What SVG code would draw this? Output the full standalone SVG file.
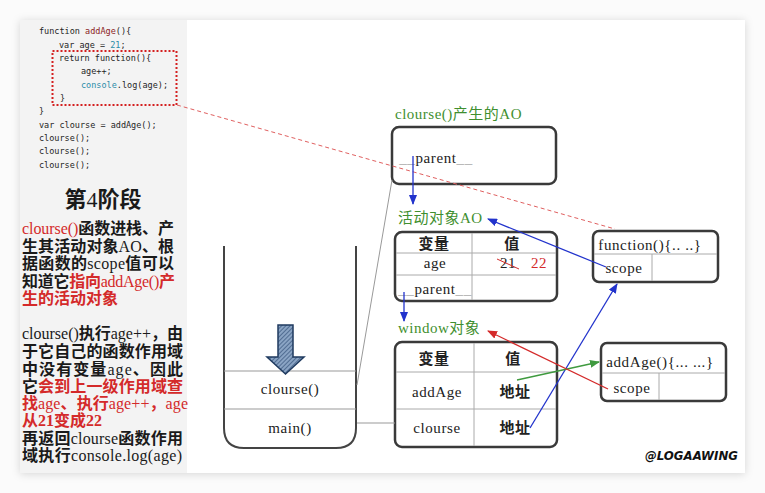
<svg xmlns="http://www.w3.org/2000/svg" width="765" height="493" viewBox="0 0 765 493">
<defs>
<style>
.code{font-family:"DejaVu Sans Mono","Liberation Mono",monospace;font-size:8.5px;fill:#1e1e1e}
.kw{fill:#8b1c1c}
.num{fill:#2b8ca8}
.cn{font-family:"Liberation Serif","Noto Sans CJK SC",serif;font-size:16px;font-weight:bold;fill:#1a1a1a}
.l{font-weight:normal}
.r{fill:#d42a2a}
.g{font-family:"Liberation Serif","Noto Sans CJK SC",serif;font-size:15px;fill:#3f8f2f;letter-spacing:0.5px}
.t{font-family:"Liberation Serif","Noto Sans CJK SC",serif;font-size:15px;fill:#222;text-anchor:middle;letter-spacing:0.6px}
.b{font-weight:bold}
.box{fill:#fff;stroke:#3a3a3a;stroke-width:2.5}
.in{stroke:#aaa;stroke-width:1;fill:none}
.gray{stroke:#999;stroke-width:1;fill:none}
.blue{stroke:#2233cc;stroke-width:1.3;fill:none}
.red{stroke:#d42a2a;stroke-width:1.3;fill:none}
.green{stroke:#3f9a3f;stroke-width:1.3;fill:none}
.us{fill:#aaa}
</style>
<filter id="sh" x="-5%" y="-5%" width="110%" height="110%">
<feDropShadow dx="0" dy="1" stdDeviation="4" flood-color="#000" flood-opacity="0.15"/>
</filter>
<marker id="ab" markerWidth="10" markerHeight="8" refX="9" refY="4" orient="auto" markerUnits="userSpaceOnUse"><path d="M0,0 L10,4 L0,8 z" fill="#2233cc"/></marker>
<marker id="ar" markerWidth="10" markerHeight="8" refX="9" refY="4" orient="auto" markerUnits="userSpaceOnUse"><path d="M0,0 L10,4 L0,8 z" fill="#d42a2a"/></marker>
<marker id="ag" markerWidth="10" markerHeight="8" refX="9" refY="4" orient="auto" markerUnits="userSpaceOnUse"><path d="M0,0 L10,4 L0,8 z" fill="#3f9a3f"/></marker>
<pattern id="hatch" width="3" height="3" patternUnits="userSpaceOnUse" patternTransform="rotate(45)">
<rect width="3" height="3" fill="#8aa4c4"/>
<line x1="0" y1="0" x2="0" y2="3" stroke="#2a4870" stroke-width="1.2"/>
</pattern>
</defs>
<rect width="765" height="493" fill="#fbfbfb"/>
<rect x="20" y="20" width="725" height="453" fill="#fff" filter="url(#sh)"/>
<rect x="20" y="20" width="167" height="453" fill="#f3f3f3"/>

<g id="code">
<text class="code" x="39" y="34">function <tspan class="kw">addAge</tspan>(){</text>
<text class="code" x="59" y="47.5">var age = <tspan class="num">21</tspan>;</text>
<text class="code" x="59" y="61">return function(){</text>
<text class="code" x="81" y="74">age++;</text>
<text class="code" x="81" y="87.5"><tspan class="num">console</tspan>.log(age);</text>
<text class="code" x="60" y="100.5">}</text>
<text class="code" x="39" y="114">}</text>
<text class="code" x="39" y="127.5">var clourse = addAge();</text>
<text class="code" x="39" y="141">clourse();</text>
<text class="code" x="39" y="154">clourse();</text>
<text class="code" x="39" y="167.5">clourse();</text>
<rect x="52.5" y="51" width="124" height="54" fill="none" stroke="#d42020" stroke-width="2" stroke-dasharray="2,2"/>
</g>

<g id="explain">
<text class="cn" x="103" y="207" text-anchor="middle" style="font-size:22px">第<tspan class="l">4</tspan>阶段</text>
<text class="cn" x="22" y="234" textLength="152" lengthAdjust="spacing"><tspan class="r l">clourse()</tspan>函数进栈、产</text>
<text class="cn" x="22" y="251.5" textLength="152" lengthAdjust="spacing">生其活动对象<tspan class="l">AO</tspan>、根</text>
<text class="cn" x="22" y="269" textLength="152" lengthAdjust="spacing">据函数的<tspan class="l">scope</tspan>值可以</text>
<text class="cn" x="22" y="286.5" textLength="153" lengthAdjust="spacing">知道它<tspan class="r">指向<tspan class="l">addAge()</tspan>产</tspan></text>
<text class="cn" x="22" y="304"><tspan class="r">生的活动对象</tspan></text>
<text class="cn" x="22" y="339" textLength="161" lengthAdjust="spacing"><tspan class="l">clourse()</tspan>执行<tspan class="l">age++</tspan>，由</text>
<text class="cn" x="22" y="357" textLength="161" lengthAdjust="spacing">于它自己的函数作用域</text>
<text class="cn" x="22" y="375" textLength="161" lengthAdjust="spacing">中没有变量<tspan class="l">age</tspan>、因此</text>
<text class="cn" x="22" y="392" textLength="161" lengthAdjust="spacing">它<tspan class="r">会到上一级作用域查</tspan></text>
<text class="cn r" x="22" y="409" textLength="166" lengthAdjust="spacing">找<tspan class="l">age</tspan>、执行<tspan class="l">age++</tspan>，<tspan class="l">age</tspan></text>
<text class="cn r" x="22" y="426">从21变成22</text>
<text class="cn" x="22" y="444" textLength="161" lengthAdjust="spacing">再返回<tspan class="l">clourse</tspan>函数作用</text>
<text class="cn" x="22" y="461" textLength="160" lengthAdjust="spacing">域执行<tspan class="l">console.log(age)</tspan></text>
</g>

<g id="stack">
<path d="M224,246 V428 Q224,448 244,448 H336 Q356,448 356,428 V246" fill="none" stroke="#444" stroke-width="2"/>
<line class="gray" x1="224" y1="371" x2="356" y2="371"/>
<line class="gray" x1="224" y1="409" x2="356" y2="409"/>
<text class="t" x="290" y="394">clourse()</text>
<text class="t" x="290" y="433">main()</text>
<path d="M278,325 H293 V357 H304 L285.5,374 L267,357 H278 Z" fill="url(#hatch)" stroke="#1f3a5f" stroke-width="1.5"/>
</g>

<g id="ao-closure">
<text class="g" x="395" y="119">clourse()产生的AO</text>
<rect class="box" x="392" y="127" width="164" height="57" rx="7"/>
<text class="t" x="436" y="163"><tspan class="us">__</tspan>parent<tspan class="us">__</tspan></text>
</g>

<g id="ao-active">
<text class="g" x="398" y="223">活动对象AO</text>
<rect class="box" x="395" y="232" width="162" height="69" rx="7"/>
<line class="in" x1="472" y1="233" x2="472" y2="300"/>
<line class="in" x1="396" y1="253" x2="556" y2="253"/>
<line class="in" x1="396" y1="275" x2="556" y2="275"/>
<text class="t b" x="434" y="249">变量</text>
<text class="t b" x="512" y="249">值</text>
<text class="t" x="435" y="268">age</text>
<text class="t" x="508" y="268">21</text>
<text class="t" x="539" y="268" style="fill:#d42a2a">22</text>
<line x1="497" y1="259" x2="519" y2="269" stroke="#d42a2a" stroke-width="1"/>
<text class="t" x="435" y="294"><tspan class="us">__</tspan>parent<tspan class="us">__</tspan></text>
</g>

<g id="window">
<text class="g" x="398" y="333">window对象</text>
<rect class="box" x="395" y="342" width="162" height="105" rx="7"/>
<line class="in" x1="474" y1="343" x2="474" y2="446"/>
<line class="in" x1="396" y1="372" x2="556" y2="372"/>
<line class="in" x1="396" y1="409" x2="556" y2="409"/>
<text class="t b" x="434" y="364">变量</text>
<text class="t b" x="513" y="364">值</text>
<text class="t" x="437" y="397">addAge</text>
<text class="t b" x="515" y="397">地址</text>
<text class="t" x="437" y="433">clourse</text>
<text class="t b" x="515" y="433">地址</text>
</g>

<g id="func-anon">
<rect class="box" x="593" y="231" width="125" height="51" rx="6"/>
<line class="in" x1="594" y1="254" x2="717" y2="254"/>
<line class="in" x1="652" y1="254" x2="652" y2="281"/>
<text class="t" x="650" y="250">function(){.. ..}</text>
<text class="t" x="624" y="273">scope</text>
</g>

<g id="func-addAge">
<rect class="box" x="601" y="343" width="125" height="58" rx="6"/>
<line class="in" x1="602" y1="373" x2="725" y2="373"/>
<line class="in" x1="659" y1="373" x2="659" y2="400"/>
<text class="t" x="660" y="367">addAge(){... ...}</text>
<text class="t" x="632" y="393">scope</text>
</g>

<g id="watermark">
<text x="645" y="460" font-family="DejaVu Sans" font-weight="bold" font-style="italic" font-size="12" fill="#111" textLength="93" lengthAdjust="spacingAndGlyphs">@LOGAAWING</text>
</g>

<g id="connectors">
<line x1="177" y1="105" x2="615" y2="229" stroke="#e06060" stroke-width="1" stroke-dasharray="4,3"/>
<line class="gray" x1="357" y1="385" x2="392" y2="180"/>
<line class="gray" x1="357" y1="423" x2="395" y2="423"/>
<line class="blue" x1="413" y1="156" x2="413" y2="204" marker-end="url(#ab)"/>
<line class="blue" x1="404" y1="292" x2="404" y2="321" marker-end="url(#ab)"/>
<line class="blue" x1="606" y1="267" x2="488" y2="219" marker-end="url(#ab)"/>
<line class="blue" x1="530" y1="428" x2="617" y2="284" marker-end="url(#ab)"/>
<line class="green" x1="517" y1="380" x2="599" y2="362" marker-end="url(#ag)"/>
<line class="red" x1="608" y1="389" x2="488" y2="331" marker-end="url(#ar)"/>
</g>
</svg>
